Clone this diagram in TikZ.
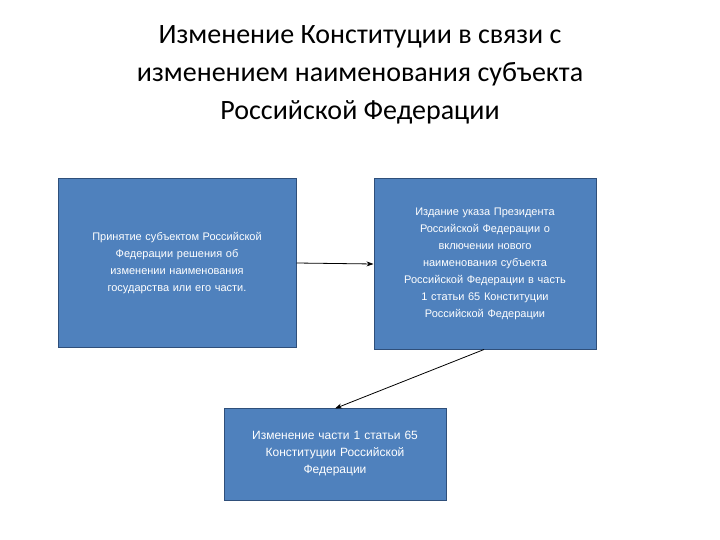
\documentclass[tikz,border=0pt]{standalone}
\usepackage{fontspec}
\setmainfont{Liberation Sans}
\newfontfamily\titlefont{Carlito}
\usetikzlibrary{arrows.meta}
\definecolor{boxfill}{HTML}{4F81BD}
\definecolor{boxline}{HTML}{2F4F7A}
\tikzset{
 blk/.style={draw=boxline, line width=1pt, fill=boxfill, text=white, align=center, inner sep=4pt, font=\fontsize{11}{17}\selectfont},
 conn/.style={-{Stealth[length=7pt,width=5pt]}, line width=0.8pt}
}
\begin{document}
\begin{tikzpicture}[x=1pt,y=-1pt]
\useasboundingbox (0,0) rectangle (720,540);
\node[font=\titlefont\fontsize{28}{38}\selectfont, align=center] (title) at (360,75) {Изменение Конституции в связи с\\изменением наименования субъекта\\Российской Федерации};
\node[blk, minimum width=238, minimum height=168, text width=228] (a) at (177,263) {Принятие субъектом Российской\\Федерации решения об\\изменении наименования\\государства или его части.};
\node[blk, minimum width=222, minimum height=170, text width=214] (b) at (485,264) {Издание указа Президента\\Российской Федерации о\\включении нового\\наименования субъекта\\Российской Федерации в часть\\1 статьи 65 Конституции\\Российской Федерации};
\node[blk, minimum width=222, minimum height=92, text width=214, font=\fontsize{12}{17}\selectfont] (c) at (335,454) {Изменение части 1 статьи 65\\Конституции Российской\\Федерации};
\draw[conn] (a.east) -- (b.west);
\draw[conn] ([xshift=-1pt]b.south) -- ([yshift=-1pt]c.north);
\end{tikzpicture}
\end{document}
